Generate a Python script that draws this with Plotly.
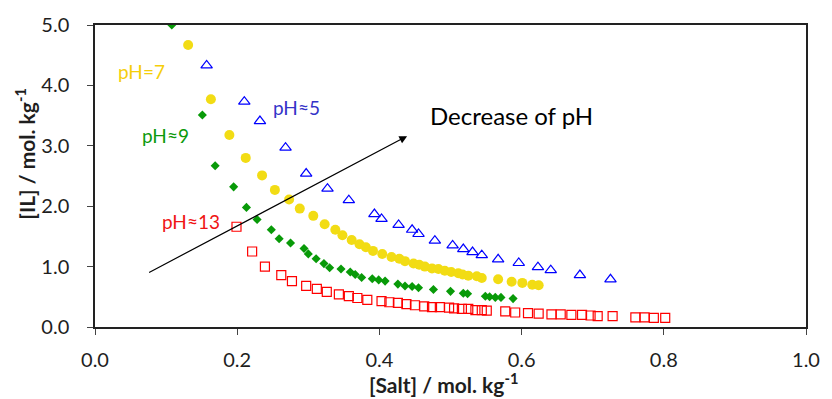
import plotly.graph_objects as go

# pH ~ 9 series
salt_ph9 = [0.108, 0.151, 0.169, 0.195, 0.213, 0.228, 0.248, 0.259, 0.275, 0.294, 0.300, 0.311,
            0.322, 0.330, 0.346, 0.359, 0.366, 0.375, 0.390, 0.399, 0.408, 0.426, 0.436, 0.446,
            0.455, 0.476, 0.500, 0.518, 0.524, 0.549, 0.555, 0.563, 0.571, 0.588]
il_ph9 = [5.00, 3.51, 2.67, 2.32, 1.98, 1.78, 1.61, 1.46, 1.39, 1.30, 1.21, 1.13,
          1.05, 0.98, 0.96, 0.91, 0.87, 0.82, 0.80, 0.78, 0.76, 0.71, 0.68, 0.67,
          0.65, 0.62, 0.59, 0.56, 0.55, 0.51, 0.50, 0.49, 0.49, 0.47]

# pH = 7 series
salt_ph7 = [0.131, 0.163, 0.189, 0.212, 0.235, 0.253, 0.273, 0.288, 0.307, 0.323, 0.338, 0.348,
            0.361, 0.372, 0.381, 0.391, 0.404, 0.417, 0.428, 0.436, 0.448, 0.456, 0.464, 0.474,
            0.483, 0.492, 0.501, 0.511, 0.517, 0.525, 0.537, 0.544, 0.567, 0.586, 0.601, 0.615, 0.624]
il_ph7 = [4.67, 3.77, 3.18, 2.80, 2.51, 2.27, 2.11, 1.96, 1.84, 1.70, 1.61, 1.52,
          1.44, 1.37, 1.32, 1.26, 1.21, 1.16, 1.13, 1.09, 1.05, 1.03, 1.00, 0.97,
          0.96, 0.93, 0.91, 0.89, 0.87, 0.85, 0.84, 0.81, 0.79, 0.75, 0.73, 0.70, 0.69]

# pH ~ 5 series
salt_ph5 = [0.157, 0.210, 0.232, 0.268, 0.297, 0.327, 0.357, 0.393, 0.403, 0.427, 0.446, 0.455,
            0.478, 0.503, 0.518, 0.531, 0.544, 0.567, 0.596, 0.623, 0.641, 0.682, 0.725]
il_ph5 = [4.33, 3.73, 3.41, 2.97, 2.54, 2.29, 2.10, 1.87, 1.79, 1.69, 1.61, 1.54,
          1.43, 1.35, 1.29, 1.24, 1.19, 1.12, 1.06, 0.99, 0.94, 0.86, 0.79]

# pH ~ 13 series
salt_ph13 = [0.199, 0.221, 0.239, 0.262, 0.277, 0.297, 0.312, 0.326, 0.343, 0.357, 0.369, 0.383,
             0.403, 0.414, 0.426, 0.438, 0.450, 0.463, 0.474, 0.485, 0.498, 0.505, 0.516, 0.525,
             0.535, 0.544, 0.551, 0.577, 0.591, 0.609, 0.624, 0.642, 0.655, 0.670, 0.685, 0.697,
             0.707, 0.728, 0.760, 0.773, 0.786, 0.802]
il_ph13 = [1.66, 1.25, 1.00, 0.86, 0.76, 0.68, 0.63, 0.58, 0.54, 0.51, 0.48, 0.45,
           0.43, 0.41, 0.40, 0.38, 0.36, 0.34, 0.33, 0.33, 0.32, 0.31, 0.30, 0.30,
           0.28, 0.28, 0.27, 0.26, 0.24, 0.23, 0.22, 0.21, 0.21, 0.20, 0.20, 0.19,
           0.18, 0.18, 0.16, 0.16, 0.15, 0.15]

x_ticks = [0.0, 0.2, 0.4, 0.6, 0.8, 1.0]
y_ticks = [0.0, 1.0, 2.0, 3.0, 4.0, 5.0]

FONT = "Lato"
TEXT = "#1E1E1E"
GREEN = "#089A08"
YELLOW = "#F2DC14"
BLUE = "#0000FF"
RED = "#FF0000"

fig = go.Figure()
fig.add_trace(go.Scatter(x=salt_ph13, y=il_ph13, mode="markers", name="pH≈13",
                         marker=dict(symbol="square-open", size=9, color=RED, line=dict(width=1.2))))
fig.add_trace(go.Scatter(x=salt_ph9, y=il_ph9, mode="markers", name="pH≈9",
                         marker=dict(symbol="diamond", size=7, color=GREEN)))
fig.add_trace(go.Scatter(x=salt_ph7, y=il_ph7, mode="markers", name="pH=7",
                         marker=dict(symbol="circle", size=10, color=YELLOW)))
fig.add_trace(go.Scatter(x=salt_ph5, y=il_ph5, mode="markers", name="pH≈5",
                         marker=dict(symbol="triangle-up-open", size=10, color=BLUE, line=dict(width=1.2))))

# series labels
labels = [
    ("pH=7", 0.029, 4.23, "#F5CE0A"),
    ("pH≈9", 0.063, 3.17, "#0C9A0C"),
    ("pH≈5", 0.247, 3.64, "#3434C8"),
    ("pH≈13", 0.091, 1.74, "#F01414"),
]
for text, x, y, color in labels:
    fig.add_annotation(x=x, y=y, text=text, showarrow=False, xanchor="left", yanchor="middle",
                       font=dict(family=FONT, size=19, color=color))

# trend arrow
fig.add_annotation(x=0.439, y=3.16, ax=0.074, ay=0.89, xref="x", yref="y", axref="x", ayref="y",
                   showarrow=True, arrowhead=2, arrowsize=1.3, arrowwidth=1.2, arrowcolor="black",
                   text="")
fig.add_annotation(x=0.468, y=3.5, text="Decrease of pH", showarrow=False, xanchor="left",
                   yanchor="middle", font=dict(family=FONT, size=24, color="black"))

# axis titles
fig.add_annotation(xref="paper", yref="paper", x=0, y=0.574, xshift=-70, textangle=-90,
                   text="<b>[IL] / mol. kg<sup>-1</sup></b>", showarrow=False,
                   xanchor="center", yanchor="middle",
                   font=dict(family=FONT, size=21, color=TEXT))
fig.add_annotation(xref="paper", yref="paper", x=0.49, y=0, yshift=-56,
                   text="<b>[Salt] / mol. kg<sup>-1</sup></b>", showarrow=False,
                   xanchor="center", yanchor="middle",
                   font=dict(family=FONT, size=21, color=TEXT))

axis_common = dict(showline=True, linecolor="#222222", linewidth=1.5, mirror=True,
                   ticks="outside", ticklen=6, tickcolor="#444444", showgrid=False,
                   zeroline=False, tickfont=dict(family=FONT, size=20, color=TEXT))

fig.update_layout(
    width=832, height=399,
    margin=dict(l=95, r=24, t=22, b=72),
    paper_bgcolor="white", plot_bgcolor="white",
    showlegend=False,
    xaxis=dict(range=[0, 1], tickvals=x_ticks, ticktext=[f"{v:.1f}" for v in x_ticks],
               ticklabelstandoff=8, **axis_common),
    yaxis=dict(range=[0, 5], tickvals=y_ticks, ticktext=[f"{v:.1f}" for v in y_ticks],
               ticklabelstandoff=14, **axis_common),
)

fig.write_html("out.html")
